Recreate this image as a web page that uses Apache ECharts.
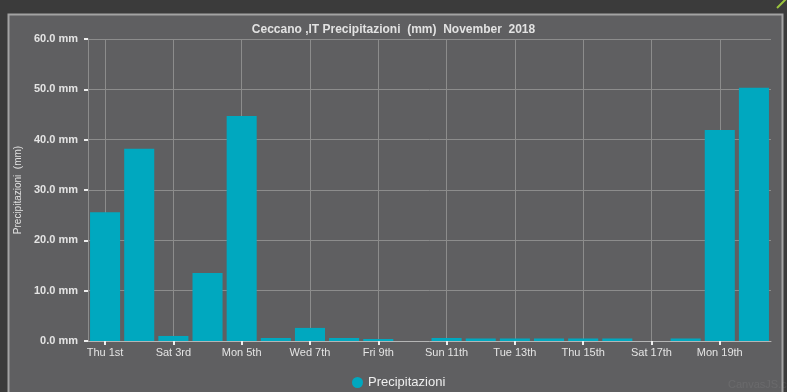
<!DOCTYPE html>
<html>
<head>
<meta charset="utf-8">
<script src="https://cdn.jsdelivr.net/npm/echarts@6/dist/echarts.min.js"></script>
<style>
html,body{margin:0;padding:0;background:#3b3b3b;}
#c{width:787px;height:392px;}
</style>
</head>
<body>
<div id="c"></div>
<script>
const categories = ['Thu 1st','Fri 2nd','Sat 3rd','Sun 4th','Mon 5th','Tue 6th','Wed 7th','Thu 8th','Fri 9th','Sat 10th','Sun 11th','Mon 12th','Tue 13th','Wed 14th','Thu 15th','Fri 16th','Sat 17th','Sun 18th','Mon 19th','Tue 20th'];
const precipitazioni = [25.6, 38.2, 1.0, 13.5, 44.7, 0.6, 2.6, 0.6, 0.4, 0, 0.6, 0.5, 0.5, 0.5, 0.5, 0.5, 0, 0.5, 41.9, 50.3];
const yTicks = [0, 10, 20, 30, 40, 50, 60];
const titleText = 'Ceccano ,IT Precipitazioni  (mm)  November  2018';
const seriesName = 'Precipitazioni';
const yAxisName = 'Precipitazioni  (mm)';

const chart = echarts.init(document.getElementById('c'), null, {renderer: 'canvas'});
chart.setOption({
  backgroundColor: '#3b3b3b',
  animation: false,
  graphic: [
    {type: 'rect', shape: {x: 8.5, y: 14.5, width: 774, height: 385}, style: {fill: '#5f5f61', stroke: '#a3a3a3', lineWidth: 2}, z: -10},
    {type: 'line', shape: {x1: 777, y1: 8, x2: 787, y2: -2}, style: {stroke: '#9bc53d', lineWidth: 2}},
    {type: 'text', left: 728, top: 379, style: {text: 'CanvasJS.com', fill: 'rgba(255,255,255,0.07)', font: '11px "Liberation Sans", Arial'}}
  ],
  title: {
    text: titleText,
    left: 'center',
    top: 19,
    textStyle: {color: '#e2e2e2', fontSize: 12, fontWeight: 'bold', fontFamily: '"Liberation Sans", Arial'}
  },
  legend: {
    data: [seriesName],
    top: 371,
    left: 347,
    icon: 'circle',
    itemWidth: 11,
    itemHeight: 11,
    itemGap: 4,
    textStyle: {color: '#eeeeee', fontSize: 13, fontFamily: '"Liberation Sans", Arial'}
  },
  grid: {left: 88, right: 16, top: 39, bottom: 51, containLabel: false},
  xAxis: {
    type: 'category',
    data: categories,
    boundaryGap: true,
    axisLine: {show: true, lineStyle: {color: '#b5b5b5', width: 1}},
    axisTick: {show: true, alignWithLabel: true, interval: 1, length: 4, lineStyle: {color: '#eeeeee', width: 2}},
    axisLabel: {interval: 1, color: '#e4e4e4', fontSize: 11, margin: 6, fontFamily: '"Liberation Sans", Arial'},
    splitLine: {show: true, alignWithLabel: true, interval: 1, lineStyle: {color: '#8c8c8c', width: 1}}
  },
  yAxis: {
    type: 'value',
    min: 0,
    max: 60,
    interval: 10,
    name: yAxisName,
    nameLocation: 'middle',
    nameGap: 58,
    nameTextStyle: {color: '#e0e0e0', fontSize: 10, fontFamily: '"Liberation Sans", Arial'},
    axisLine: {show: true, lineStyle: {color: '#8c8c8c'}},
    axisTick: {show: true, length: 4, lineStyle: {color: '#eeeeee', width: 2}},
    axisLabel: {color: '#e4e4e4', fontSize: 11, fontWeight: 'bold', margin: 10, fontFamily: '"Liberation Sans", Arial',
      formatter: v => yTicks.includes(v) ? v.toFixed(1) + ' mm' : ''},
    splitLine: {show: true, lineStyle: {color: '#8c8c8c', width: 1}}
  },
  series: [{
    name: seriesName,
    type: 'bar',
    data: precipitazioni,
    barCategoryGap: '12%',
    itemStyle: {color: '#00a8bf'}
  }]
});
</script>
</body>
</html>
